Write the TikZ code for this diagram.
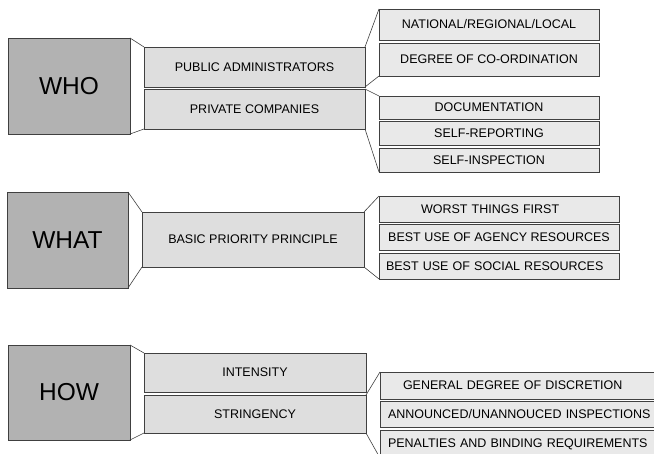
\documentclass[tikz,border=0pt]{standalone}
\usepackage{fontspec}
\setmainfont{Liberation Sans}
\usepackage{tikz}

\definecolor{edgegray}{HTML}{404040}
\definecolor{darkfill}{HTML}{B2B2B2}
\definecolor{midfill}{HTML}{DEDEDE}
\definecolor{lightfill}{HTML}{E9E9E9}

\begin{document}
\begin{tikzpicture}[x=1pt, y=-1pt,
    box/.style={draw=edgegray, line width=0.8pt, inner sep=0pt, outer sep=0pt,
        font=\fontsize{12.5}{14}\selectfont},
    bigbox/.style={box, fill=darkfill, font=\fontsize{24.5}{28}\selectfont},
    midbox/.style={box, fill=midfill},
    subbox/.style={box, fill=lightfill},
    link/.style={draw=edgegray, line width=0.6pt}]
    \useasboundingbox (0,0) rectangle (654,454);
    \clip (0,0) rectangle (654,454);

    % WHO
    \node (who) at (69,86) [bigbox, minimum width=122, minimum height=96] {WHO};
    \node (pubadm) at (254.5,67) [midbox, minimum width=221, minimum height=40] {PUBLIC ADMINISTRATORS};
    \node (privco) at (254.5,109) [midbox, minimum width=221, minimum height=40] {PRIVATE COMPANIES};
    \draw[link] (who.north east) -- (pubadm.north west);
    \draw[link] (who.south east) -- (privco.south west);

    \node (level) at (489,24.5) [subbox, minimum width=220, minimum height=31] {NATIONAL/REGIONAL/LOCAL};
    \node (coord) at (489,59.5) [subbox, minimum width=220, minimum height=33] {DEGREE OF CO-ORDINATION};
    \draw[link] (pubadm.north east) -- (level.north west);
    \draw[link] (pubadm.south east) -- (coord.south west);

    \node (docu) at (489,107.5) [subbox, minimum width=220, minimum height=23] {DOCUMENTATION};
    \node (selfrep) at (489,133) [subbox, minimum width=220, minimum height=24] {SELF-REPORTING};
    \node (selfinsp) at (489,160) [subbox, minimum width=220, minimum height=24] {SELF-INSPECTION};
    \draw[link] (privco.north east) -- (docu.north west);
    \draw[link] (privco.south east) -- (selfinsp.south west);

    % WHAT
    \node (what) at (67.5,240) [bigbox, minimum width=121, minimum height=96] {WHAT};
    \node (basic) at (253,239.5) [midbox, minimum width=222, minimum height=55] {BASIC PRIORITY PRINCIPLE};
    \draw[link] (what.north east) -- (basic.north west);
    \draw[link] (what.south east) -- (basic.south west);

    \node (worst) at (499,209) [subbox, minimum width=240, minimum height=26,
        inner xsep=42, text width=156, align=left] {WORST THINGS FIRST};
    \node (agency) at (499,237) [subbox, minimum width=240, minimum height=26] {BEST USE OF AGENCY RESOURCES};
    \node (social) at (499,266) [subbox, minimum width=240, minimum height=26,
        inner xsep=7, text width=226, align=left] {BEST USE OF SOCIAL RESOURCES};
    \draw[link] (basic.north east) -- (worst.north west);
    \draw[link] (basic.south east) -- (social.south west);

    % HOW (right column runs past the page edge)
    \node (how) at (69,392.5) [bigbox, minimum width=122, minimum height=95] {HOW};
    \node (intens) at (255,372.5) [midbox, minimum width=222, minimum height=39] {INTENSITY};
    \node (string) at (255,414) [midbox, minimum width=222, minimum height=38] {STRINGENCY};
    \draw[link] (how.north east) -- (intens.north west);
    \draw[link] (how.south east) -- (string.south west);

    \node (discr) at (380,385.5) [subbox, anchor=west, minimum height=27,
        inner xsep=23, text width=260, align=left] {GENERAL DEGREE OF DISCRETION};
    \node (announce) at (380,414) [subbox, anchor=west, minimum height=26,
        inner xsep=8, text width=290, align=left] {ANNOUNCED/UNANNOUCED INSPECTIONS};
    \node (penal) at (380,444) [subbox, anchor=west, minimum height=28,
        inner xsep=8, text width=290, align=left] {PENALTIES AND BINDING REQUIREMENTS};
    \draw[link] (string.north east) -- (discr.north west);
    \draw[link] (string.south east) -- (penal.south west);
\end{tikzpicture}
\end{document}
